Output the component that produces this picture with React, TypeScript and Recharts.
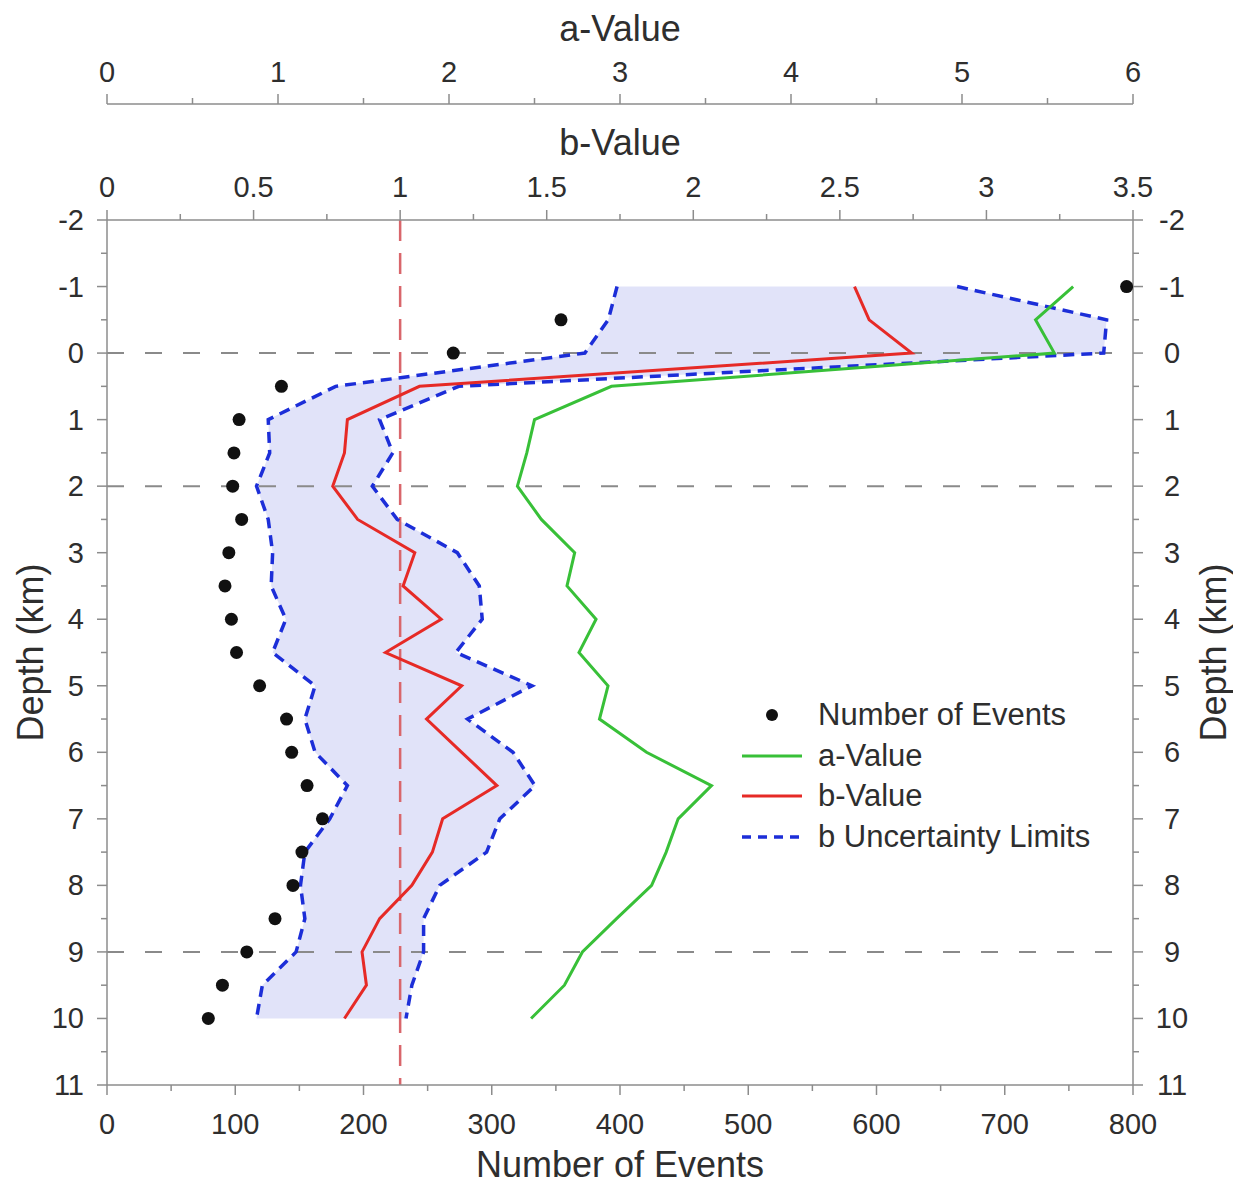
import React from 'react';
import { ComposedChart, Line, Area, XAxis, YAxis, ReferenceLine, Legend } from 'recharts';

// ---------- data ----------
const depths = [-1, -0.5, 0, 0.5, 1, 1.5, 2, 2.5, 3, 3.5, 4, 4.5, 5, 5.5, 6, 6.5, 7, 7.5, 8, 8.5, 9, 9.5, 10];
const numberOfEvents = [795, 354, 270, 136, 103, 99, 98, 105, 95, 92, 97, 101, 119, 140, 144, 156, 168, 152, 145, 131, 109, 90, 79];
const aValues = [5.65, 5.43, 5.54, 2.95, 2.5, 2.455, 2.4, 2.54, 2.735, 2.69, 2.86, 2.76, 2.93, 2.88, 3.155, 3.535, 3.34, 3.27, 3.185, 2.98, 2.78, 2.675, 2.48];
const bValues = [2.55, 2.6, 2.745, 1.066, 0.82, 0.81, 0.77, 0.855, 1.05, 1.01, 1.14, 0.95, 1.21, 1.09, 1.21, 1.33, 1.145, 1.11, 1.04, 0.93, 0.87, 0.885, 0.81];
const bLowerLimits = [1.74, 1.71, 1.63, 0.78, 0.55, 0.555, 0.51, 0.55, 0.565, 0.56, 0.61, 0.565, 0.71, 0.675, 0.71, 0.82, 0.76, 0.675, 0.66, 0.675, 0.645, 0.53, 0.51];
const bUpperLimits = [2.9, 3.41, 3.4, 1.2, 0.93, 0.975, 0.905, 0.99, 1.195, 1.27, 1.28, 1.19, 1.45, 1.23, 1.385, 1.46, 1.34, 1.295, 1.135, 1.08, 1.08, 1.04, 1.02];

const depthTicks = [-2, -1.5, -1, -0.5, 0, 0.5, 1, 1.5, 2, 2.5, 3, 3.5, 4, 4.5, 5, 5.5, 6, 6.5, 7, 7.5, 8, 8.5, 9, 9.5, 10, 10.5, 11];
const eventTicks = [0, 50, 100, 150, 200, 250, 300, 350, 400, 450, 500, 550, 600, 650, 700, 750, 800];
const bTicks = [0, 0.25, 0.5, 0.75, 1, 1.25, 1.5, 1.75, 2, 2.25, 2.5, 2.75, 3, 3.25, 3.5];
const aTicks = [0, 0.5, 1, 1.5, 2, 2.5, 3, 3.5, 4, 4.5, 5, 5.5, 6];
const dashedDepths = [0, 2, 9];
const referenceB = 1;

const legendItems = [
  { label: 'Number of Events', kind: 'dot' },
  { label: 'a-Value', kind: 'green' },
  { label: 'b-Value', kind: 'red' },
  { label: 'b Uncertainty Limits', kind: 'blue' },
];

const data = depths.map((depth, i) => ({
  depth,
  events: numberOfEvents[i],
  a: aValues[i],
  b: bValues[i],
  bLow: bLowerLimits[i],
  bHigh: bUpperLimits[i],
  bRange: [bLowerLimits[i], bUpperLimits[i]],
}));

// axis ids: inner top axis (b) must sort before outer top axis (a)
const B_AXIS = 't1-b';
const A_AXIS = 't2-a';

// ---------- styles ----------
const FONT = '"Liberation Sans", Arial, Helvetica, sans-serif';
const AXIS = '#8c8c8c';
const TEXT = '#2e2e2e';
const GREEN = '#38c038';
const RED = '#e62a26';
const BLUE = '#1c2ed8';
const FILL = '#e1e3f9';
const TICK_FS = 29;
const TITLE_FS = 36;

const isMultiple = (v: number, step: number) => Math.abs(v / step - Math.round(v / step)) < 1e-6;

const makeXTick = (side: 'top' | 'bottom', step: number, labelOffset: number) => (props: any) => {
  const { x, y, payload } = props;
  const v = payload.value;
  const major = isMultiple(v, step);
  const dir = side === 'top' ? -1 : 1;
  return (
    <g>
      <line x1={x} x2={x} y1={y} y2={y + dir * (major ? 10 : 6)} stroke={AXIS} strokeWidth={1.5} />
      {major && (
        <text x={x} y={y + dir * labelOffset} textAnchor="middle" dominantBaseline="central" fontSize={TICK_FS} fill={TEXT} fontFamily={FONT}>
          {String(v)}
        </text>
      )}
    </g>
  );
};

const makeYTick = (side: 'left' | 'right') => (props: any) => {
  const { x, y, payload } = props;
  const v = payload.value;
  const major = isMultiple(v, 1);
  const dir = side === 'left' ? -1 : 1;
  return (
    <g>
      <line x1={x} x2={x + dir * (major ? 10 : 6)} y1={y} y2={y} stroke={AXIS} strokeWidth={1.5} />
      {major && (
        <text
          x={side === 'left' ? x - 23 : x + 39}
          y={y}
          textAnchor={side === 'left' ? 'end' : 'middle'}
          dominantBaseline="central"
          fontSize={TICK_FS}
          fill={TEXT}
          fontFamily={FONT}
        >
          {String(v)}
        </text>
      )}
    </g>
  );
};

const eventsTick = makeXTick('bottom', 100, 39);
const bTick = makeXTick('top', 0.5, 33);
const aTick = makeXTick('top', 1, 32);
const leftTick = makeYTick('left');
const rightTick = makeYTick('right');

const topTitle = (text: string, off: number) => (props: any) => {
  const vb = props.viewBox || {};
  return (
    <text x={vb.x + vb.width / 2} y={vb.y + vb.height - off} textAnchor="middle" dominantBaseline="central" fontSize={TITLE_FS} fill={TEXT} fontFamily={FONT}>
      {text}
    </text>
  );
};

const bottomTitle = (text: string, off: number) => (props: any) => {
  const vb = props.viewBox || {};
  return (
    <text x={vb.x + vb.width / 2} y={vb.y + off} textAnchor="middle" dominantBaseline="central" fontSize={TITLE_FS} fill={TEXT} fontFamily={FONT}>
      {text}
    </text>
  );
};

const sideTitle = (text: string, side: 'left' | 'right', off: number) => (props: any) => {
  const vb = props.viewBox || {};
  const cx = side === 'left' ? vb.x + vb.width - off : vb.x + off;
  const cy = vb.y + vb.height / 2;
  return (
    <text x={cx} y={cy} transform={`rotate(-90 ${cx} ${cy})`} textAnchor="middle" dominantBaseline="central" fontSize={TITLE_FS} fill={TEXT} fontFamily={FONT}>
      {text}
    </text>
  );
};

const renderLegend = () => (
  <div style={{ fontFamily: FONT, fontSize: 31, color: TEXT }}>
    {legendItems.map((item) => (
      <div key={item.label} style={{ display: 'flex', alignItems: 'center', height: 40.5, lineHeight: '40px', whiteSpace: 'nowrap' }}>
        <svg width={60} height={20} style={{ flex: 'none' }}>
          {item.kind === 'dot' && <circle cx={30} cy={10} r={6} fill="#111" />}
          {item.kind === 'green' && <line x1={0} x2={60} y1={10} y2={10} stroke={GREEN} strokeWidth={3} />}
          {item.kind === 'red' && <line x1={0} x2={60} y1={10} y2={10} stroke={RED} strokeWidth={3} />}
          {item.kind === 'blue' && <line x1={0} x2={60} y1={10} y2={10} stroke={BLUE} strokeWidth={3.5} strokeDasharray="9 7" />}
        </svg>
        <span style={{ marginLeft: 16 }}>{item.label}</span>
      </div>
    ))}
  </div>
);

export default function App() {
  return (
    <div style={{ width: 1225, height: 1170 }}>
      <ComposedChart layout="vertical" width={1225} height={1178} data={data} margin={{ top: 0, right: 0, bottom: 0, left: 0 }}>
        <XAxis
          xAxisId={B_AXIS}
          orientation="top"
          type="number"
          domain={[0, 3.5]}
          ticks={bTicks}
          interval={0}
          height={116}
          tickSize={0}
          tickMargin={0}
          tickLine={false}
          tick={bTick}
          axisLine={{ stroke: AXIS, strokeWidth: 1.5 }}
          allowDataOverflow
          label={{ content: topTitle('b-Value', 78) }}
        />
        <XAxis
          xAxisId={A_AXIS}
          orientation="top"
          type="number"
          domain={[0, 6]}
          ticks={aTicks}
          interval={0}
          height={96}
          tickSize={0}
          tickMargin={0}
          tickLine={false}
          tick={aTick}
          axisLine={{ stroke: AXIS, strokeWidth: 1.5 }}
          allowDataOverflow
          label={{ content: topTitle('a-Value', 76) }}
        />
        <XAxis
          xAxisId="events"
          orientation="bottom"
          type="number"
          domain={[0, 800]}
          ticks={eventTicks}
          interval={0}
          height={101}
          tickSize={0}
          tickMargin={0}
          tickLine={false}
          tick={eventsTick}
          axisLine={{ stroke: AXIS, strokeWidth: 1.5 }}
          allowDataOverflow
          label={{ content: bottomTitle('Number of Events', 79) }}
        />
        <YAxis
          yAxisId="left"
          orientation="left"
          type="number"
          dataKey="depth"
          domain={[-2, 11]}
          ticks={depthTicks}
          interval={0}
          width={99}
          tickSize={0}
          tickMargin={0}
          tickLine={false}
          tick={leftTick}
          axisLine={{ stroke: AXIS, strokeWidth: 1.5 }}
          allowDataOverflow
          label={{ content: sideTitle('Depth (km)', 'left', 77) }}
        />
        <YAxis
          yAxisId="right"
          orientation="right"
          type="number"
          dataKey="depth"
          domain={[-2, 11]}
          ticks={depthTicks}
          interval={0}
          width={100}
          tickSize={0}
          tickMargin={0}
          tickLine={false}
          tick={rightTick}
          axisLine={{ stroke: AXIS, strokeWidth: 1.5 }}
          allowDataOverflow
          label={{ content: sideTitle('Depth (km)', 'right', 80) }}
        />

        <Area
          xAxisId={B_AXIS}
          yAxisId="left"
          dataKey="bRange"
          type="linear"
          stroke="none"
          fill={FILL}
          fillOpacity={1}
          dot={false}
          activeDot={false}
          isAnimationActive={false}
        />

        {dashedDepths.map((d) => (
          <ReferenceLine key={d} xAxisId="events" yAxisId="left" y={d} stroke="#8a8a8a" strokeWidth={2} strokeDasharray="17 21" />
        ))}
        <ReferenceLine xAxisId={B_AXIS} yAxisId="left" x={referenceB} stroke="#d9666b" strokeWidth={2.5} strokeDasharray="21 12" />

        <Line xAxisId={B_AXIS} yAxisId="left" dataKey="bLow" type="linear" stroke={BLUE} strokeWidth={3.5} strokeDasharray="11 7" dot={false} activeDot={false} isAnimationActive={false} />
        <Line xAxisId={B_AXIS} yAxisId="left" dataKey="bHigh" type="linear" stroke={BLUE} strokeWidth={3.5} strokeDasharray="11 7" dot={false} activeDot={false} isAnimationActive={false} />
        <Line xAxisId={A_AXIS} yAxisId="left" dataKey="a" type="linear" stroke={GREEN} strokeWidth={3} dot={false} activeDot={false} isAnimationActive={false} />
        <Line xAxisId={B_AXIS} yAxisId="left" dataKey="b" type="linear" stroke={RED} strokeWidth={3} dot={false} activeDot={false} isAnimationActive={false} />
        <Line
          xAxisId="events"
          yAxisId="left"
          dataKey="events"
          type="linear"
          stroke="none"
          strokeWidth={0}
          dot={{ r: 6.5, fill: '#111', stroke: 'none' }}
          activeDot={false}
          isAnimationActive={false}
        />

        <Legend
          layout="horizontal"
          verticalAlign="middle"
          align="center"
          content={renderLegend}
          wrapperStyle={{ position: 'absolute', left: 734, top: 687, width: 420, height: 170 }}
        />
      </ComposedChart>
    </div>
  );
}
